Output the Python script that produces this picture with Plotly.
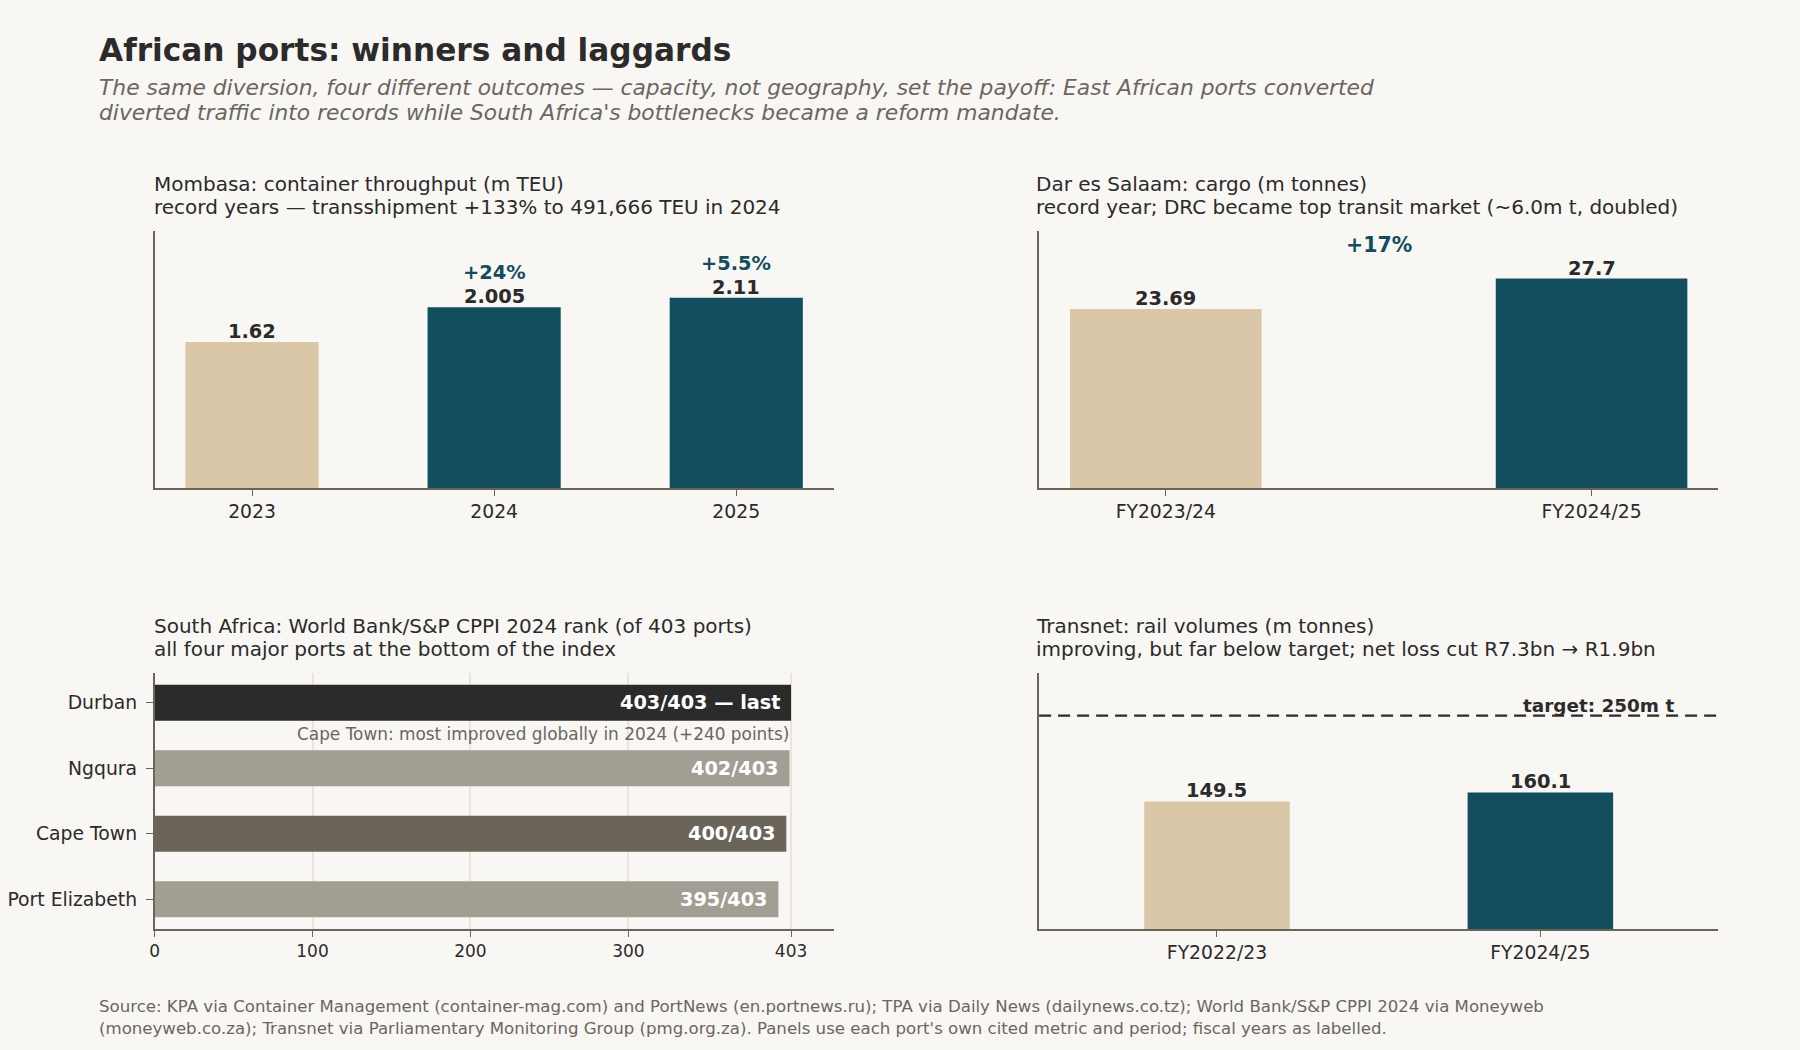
import plotly.graph_objects as go

# ---------------- data ----------------
mombasa_years = ["2023", "2024", "2025"]
mombasa_teu = [1.62, 2.005, 2.11]
mombasa_labels = ["1.62", "2.005", "2.11"]
mombasa_pct = ["", "+24%", "+5.5%"]

dar_years = ["FY2023/24", "FY2024/25"]
dar_tonnes = [23.69, 27.7]
dar_labels = ["23.69", "27.7"]
dar_pct = "+17%"

cppi_ports = ["Port Elizabeth", "Cape Town", "Ngqura", "Durban"]
cppi_rank = [395, 400, 402, 403]
cppi_labels = ["395/403", "400/403", "402/403", "403/403 — last"]
cppi_total = 403
cppi_ticks = [0, 100, 200, 300, 403]

transnet_years = ["FY2022/23", "FY2024/25"]
transnet_vol = [149.5, 160.1]
transnet_labels = ["149.5", "160.1"]
transnet_target = 250

title_text = "African ports: winners and laggards"
subtitle_lines = [
    "The same diversion, four different outcomes — capacity, not geography, set the payoff: East African ports converted",
    "diverted traffic into records while South Africa's bottlenecks became a reform mandate.",
]
footer_lines = [
    "Source: KPA via Container Management (container-mag.com) and PortNews (en.portnews.ru); TPA via Daily News (dailynews.co.tz); World Bank/S&P CPPI 2024 via Moneyweb",
    "(moneyweb.co.za); Transnet via Parliamentary Monitoring Group (pmg.org.za). Panels use each port's own cited metric and period; fiscal years as labelled.",
]
panel_titles = [
    ["Mombasa: container throughput (m TEU)",
     "record years — transshipment +133% to 491,666 TEU in 2024"],
    ["Dar es Salaam: cargo (m tonnes)",
     "record year; DRC became top transit market (~6.0m t, doubled)"],
    ["South Africa: World Bank/S&P CPPI 2024 rank (of 403 ports)",
     "all four major ports at the bottom of the index"],
    ["Transnet: rail volumes (m tonnes)",
     "improving, but far below target; net loss cut R7.3bn → R1.9bn"],
]

# ---------------- style ----------------
BG = "#f9f7f3"
TAN = "#d9c7a7"
TEAL = "#134e5e"
DARK = "#2b2b2b"
GRAY = "#a29e93"
WARM = "#6b6459"
SUB = "#6b665e"
GRID = "#e9e5de"
FONT = "DejaVu Sans"

W, H = 1800, 1050


def px_x(p):
    return p / W


def px_y(p):
    return 1 - p / H


fig = go.Figure()

fig.add_trace(go.Bar(x=mombasa_years, y=mombasa_teu, width=0.55,
                     marker=dict(color=[TAN, TEAL, TEAL], line=dict(width=0)),
                     xaxis="x", yaxis="y", hoverinfo="skip"))
fig.add_trace(go.Bar(x=dar_years, y=dar_tonnes, width=0.45,
                     marker=dict(color=[TAN, TEAL], line=dict(width=0)),
                     xaxis="x2", yaxis="y2", hoverinfo="skip"))
fig.add_trace(go.Bar(y=cppi_ports, x=cppi_rank, orientation="h", width=0.55,
                     marker=dict(color=[GRAY, WARM, GRAY, DARK], line=dict(width=0)),
                     xaxis="x3", yaxis="y3", hoverinfo="skip"))
fig.add_trace(go.Bar(x=transnet_years, y=transnet_vol, width=0.45,
                     marker=dict(color=[TAN, TEAL], line=dict(width=0)),
                     xaxis="x4", yaxis="y4", hoverinfo="skip"))

xl = [px_x(150), px_x(831)]
xr = [px_x(1037), px_x(1718)]
yt = [px_y(488), px_y(231)]
yb = [px_y(929), px_y(673)]

axis_common = dict(showline=True, linecolor=WARM, linewidth=1.5, mirror=False,
                   zeroline=False, showgrid=False,
                   tickfont=dict(family=FONT, size=18.8, color=DARK))
tick_common = dict(ticks="outside", ticklen=6, tickcolor=WARM, tickwidth=1.2)

fig.update_layout(
    width=W, height=H,
    paper_bgcolor=BG, plot_bgcolor=BG,
    margin=dict(l=0, r=0, t=0, b=0),
    showlegend=False,
    font=dict(family=FONT, color=DARK),
    xaxis=dict(domain=xl, anchor="y", type="category", range=[-0.4025, 2.4025],
               **tick_common, **axis_common),
    yaxis=dict(domain=yt, anchor="x", range=[0, 2.85], showticklabels=False,
               ticks="", **axis_common),
    xaxis2=dict(domain=xr, anchor="y2", type="category", range=[-0.2975, 1.2975],
                **tick_common, **axis_common),
    yaxis2=dict(domain=yt, anchor="x2", range=[0, 34], showticklabels=False,
                ticks="", **axis_common),
    xaxis3=dict(domain=xl, anchor="y3", range=[0, 430],
                tickmode="array", tickvals=cppi_ticks, ticktext=[str(t) for t in cppi_ticks],
                **tick_common,
                showline=True, linecolor=WARM, linewidth=1.5, zeroline=False,
                showgrid=True, gridcolor=GRID, gridwidth=1.5,
                tickfont=dict(family=FONT, size=17, color=DARK)),
    yaxis3=dict(domain=yb, anchor="x3", type="category", range=[-0.4525, 3.4525],
                categoryorder="array", categoryarray=cppi_ports,
                ticks="outside", ticklen=7, tickcolor=WARM, tickwidth=1.2,
                ticklabelstandoff=5, **axis_common),
    xaxis4=dict(domain=xr, anchor="y4", type="category", range=[-0.55, 1.55],
                **tick_common, **axis_common),
    yaxis4=dict(domain=yb, anchor="x4", range=[0, 300], showticklabels=False,
                ticks="", **axis_common),
)

ann = []


def paper_text(x, y, text, size, color):
    ann.append(dict(xref="paper", yref="paper", x=px_x(x), y=px_y(y),
                    xanchor="left", yanchor="middle", align="left",
                    showarrow=False, text=text,
                    font=dict(family=FONT, size=size, color=color)))


LEFT = 92
paper_text(LEFT, 49.5, f"<b>{title_text}</b>", 31.2, DARK)
paper_text(LEFT, 87.3, f"<i>{subtitle_lines[0]}</i>", 21.8, SUB)
paper_text(LEFT, 112.6, f"<i>{subtitle_lines[1]}</i>", 21.8, SUB)
paper_text(LEFT, 1006.5, footer_lines[0], 16.6, SUB)
paper_text(LEFT, 1028.3, footer_lines[1], 16.6, SUB)

title_pos = [(147, 183.7), (1032, 183.7), (147, 625.7), (1032, 625.7)]
for (x, y), lines in zip(title_pos, panel_titles):
    paper_text(x, y, lines[0], 20, DARK)
    paper_text(x, y + 23.5, lines[1], 20, DARK)

# Mombasa labels
for i, (v, lab, pct) in enumerate(zip(mombasa_teu, mombasa_labels, mombasa_pct)):
    ann.append(dict(xref="x", yref="y", x=i, y=v, xanchor="center", yanchor="bottom",
                    text=f"<b>{lab}</b>", showarrow=False, yshift=-3,
                    font=dict(family=FONT, size=19.4, color=DARK)))
    if pct:
        ann.append(dict(xref="x", yref="y", x=i, y=v, xanchor="center", yanchor="bottom",
                        text=f"<b>{pct}</b>", showarrow=False, yshift=21,
                        font=dict(family=FONT, size=19.4, color=TEAL)))

# Dar labels
for i, (v, lab) in enumerate(zip(dar_tonnes, dar_labels)):
    ann.append(dict(xref="x2", yref="y2", x=i, y=v, xanchor="center", yanchor="bottom",
                    text=f"<b>{lab}</b>", showarrow=False, yshift=-3,
                    font=dict(family=FONT, size=19.4, color=DARK)))
ann.append(dict(xref="x2", yref="y2", x=0.5, y=32.2, xanchor="center", yanchor="middle",
                text=f"<b>{dar_pct}</b>", showarrow=False,
                font=dict(family=FONT, size=20.5, color=TEAL)))

# CPPI labels
for i, (v, lab) in enumerate(zip(cppi_rank, cppi_labels)):
    ann.append(dict(xref="x3", yref="y3", x=v, y=i, xanchor="right", yanchor="middle",
                    text=f"<b>{lab}</b>", showarrow=False, xshift=-8,
                    font=dict(family=FONT, size=19.3, color="white")))
ann.append(dict(xref="x3", yref="y3", x=cppi_total, y=2.52, xanchor="right", yanchor="middle",
                text="Cape Town: most improved globally in 2024 (+240 points)", showarrow=False,
                font=dict(family=FONT, size=16.9, color=SUB)))

# Transnet labels
for i, (v, lab) in enumerate(zip(transnet_vol, transnet_labels)):
    ann.append(dict(xref="x4", yref="y4", x=i, y=v, xanchor="center", yanchor="bottom",
                    text=f"<b>{lab}</b>", showarrow=False, yshift=-3,
                    font=dict(family=FONT, size=19.4, color=DARK)))
ann.append(dict(xref="x4", yref="y4", x=1.42, y=transnet_target, xanchor="right", yanchor="bottom",
                text="<b>target: 250m t</b>", showarrow=False, yshift=-2,
                font=dict(family=FONT, size=18.4, color=DARK)))

fig.add_shape(type="line", xref="x4 domain", yref="y4", x0=0, x1=1,
              y0=transnet_target, y1=transnet_target,
              line=dict(color=DARK, width=2.2, dash="12px,7px"))

fig.update_layout(annotations=ann)

fig.write_html("out.html", config={"displayModeBar": False},
               post_script="document.body.style.margin='0';document.body.style.background='%s';" % BG)
